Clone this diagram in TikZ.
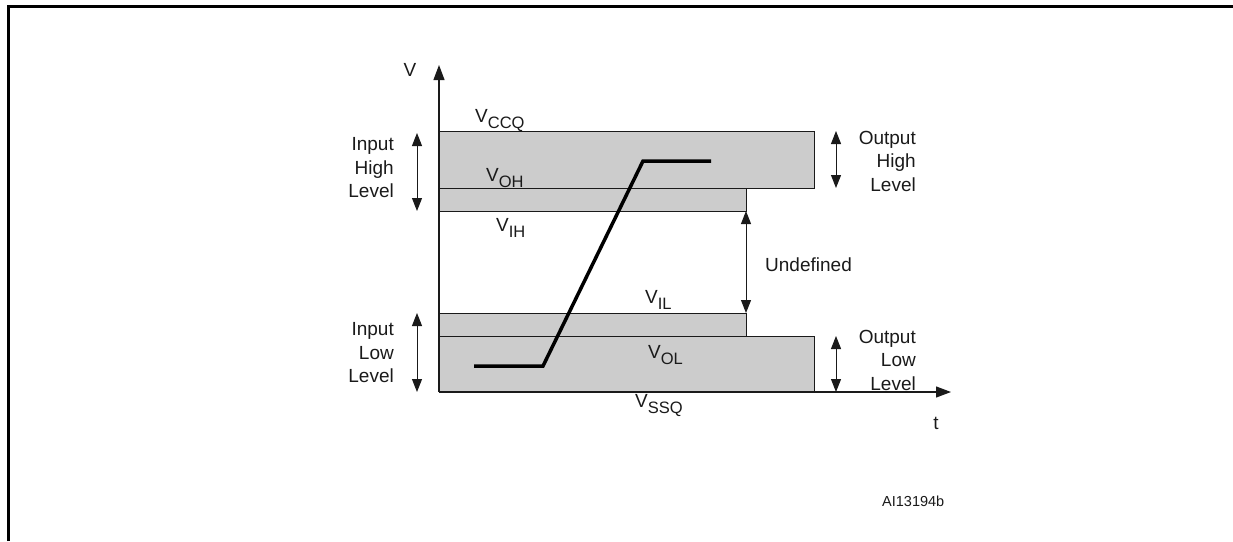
\documentclass[tikz,border=0pt]{standalone}
\usepackage{fontspec}
\setmainfont{Liberation Sans}
\usetikzlibrary{arrows.meta}
\definecolor{boxgrey}{HTML}{CCCCCC}
\definecolor{ink}{HTML}{1A1A1A}
\newcommand{\vsub}[1]{V\raisebox{-6pt}{\fontsize{16.5}{16.5}\selectfont #1}}
\begin{document}
\begin{tikzpicture}[x=1pt,y=-1pt,
  lbl/.style={font=\fontsize{19}{23.5}\selectfont, inner sep=0pt, text=ink},
  band/.style={fill=boxgrey, draw=ink, line width=1pt},
  dbl/.style={{Triangle[length=13pt,width=10pt]}-{Triangle[length=13pt,width=10pt]}, line width=1pt, draw=ink},
  axis/.style={-{Triangle[length=15pt,width=11pt]}, line width=1.2pt, draw=ink},
  signal/.style={line width=3.5pt, draw=black},
  frameline/.style={line width=3pt, draw=black}]
\useasboundingbox (0,0) rectangle (1233,541);
% frame
\coordinate (fb) at (8,541);
\coordinate (fc) at (8,6);
\coordinate (fr) at (1233,6);
\draw[frameline] (fb) -- (fc) -- (fr);
% bands
\draw[band] (439,188) rectangle (746,211);
\draw[band] (439,131) rectangle (814,188);
\draw[band] (439,313) rectangle (746,336);
\draw[band] (439,336) rectangle (814,392);
% axes
\coordinate (o) at (439,392);
\coordinate (vtop) at (439,65);
\coordinate (tend) at (951,392);
\draw[axis] (o) -- (vtop);
\draw[axis] (o) -- (tend);
% signal
\coordinate (s1) at (474,366);
\coordinate (s2) at (543,366);
\coordinate (s3) at (643,161);
\coordinate (s4) at (711,161);
\draw[signal] (s1) -- (s2) -- (s3) -- (s4);
% level arrows
\coordinate (ih1) at (417,133); \coordinate (ih2) at (417,211);
\coordinate (il1) at (417,313); \coordinate (il2) at (417,392);
\coordinate (oh1) at (836,131); \coordinate (oh2) at (836,188);
\coordinate (ol1) at (836,336); \coordinate (ol2) at (836,392);
\coordinate (u1) at (746,211); \coordinate (u2) at (746,313);
\draw[dbl] (ih1) -- (ih2);
\draw[dbl] (il1) -- (il2);
\draw[dbl] (oh1) -- (oh2);
\draw[dbl] (ol1) -- (ol2);
\draw[dbl] (u1) -- (u2);
% labels
\node[lbl, align=right, anchor=east] (inh) at (394,168) {Input\\High\\Level};
\node[lbl, align=right, anchor=east] (inl) at (394,353) {Input\\Low\\Level};
\node[lbl, align=right, anchor=east] (outh) at (916,161) {Output\\High\\Level};
\node[lbl, align=right, anchor=east] (outl) at (916,360) {Output\\Low\\Level};
\node[lbl, anchor=west] (und) at (765,265) {Undefined};
\node[lbl] (vlab) at (410,70) {V};
\node[lbl] (tlab) at (936,423) {t};
\node[lbl, anchor=west] (vccq) at (475,121) {\vsub{CCQ}};
\node[lbl, anchor=west] (voh) at (486,178) {\vsub{OH}};
\node[lbl, anchor=west] (vih) at (496,228) {\vsub{IH}};
\node[lbl, anchor=west] (vil) at (645,300) {\vsub{IL}};
\node[lbl, anchor=west] (vol) at (648,355) {\vsub{OL}};
\node[lbl, anchor=west] (vssq) at (635,406) {\vsub{SSQ}};
\node[lbl, anchor=west, font=\fontsize{14.5}{16}\selectfont] (ai) at (882,501) {AI13194b};
\end{tikzpicture}
\end{document}
